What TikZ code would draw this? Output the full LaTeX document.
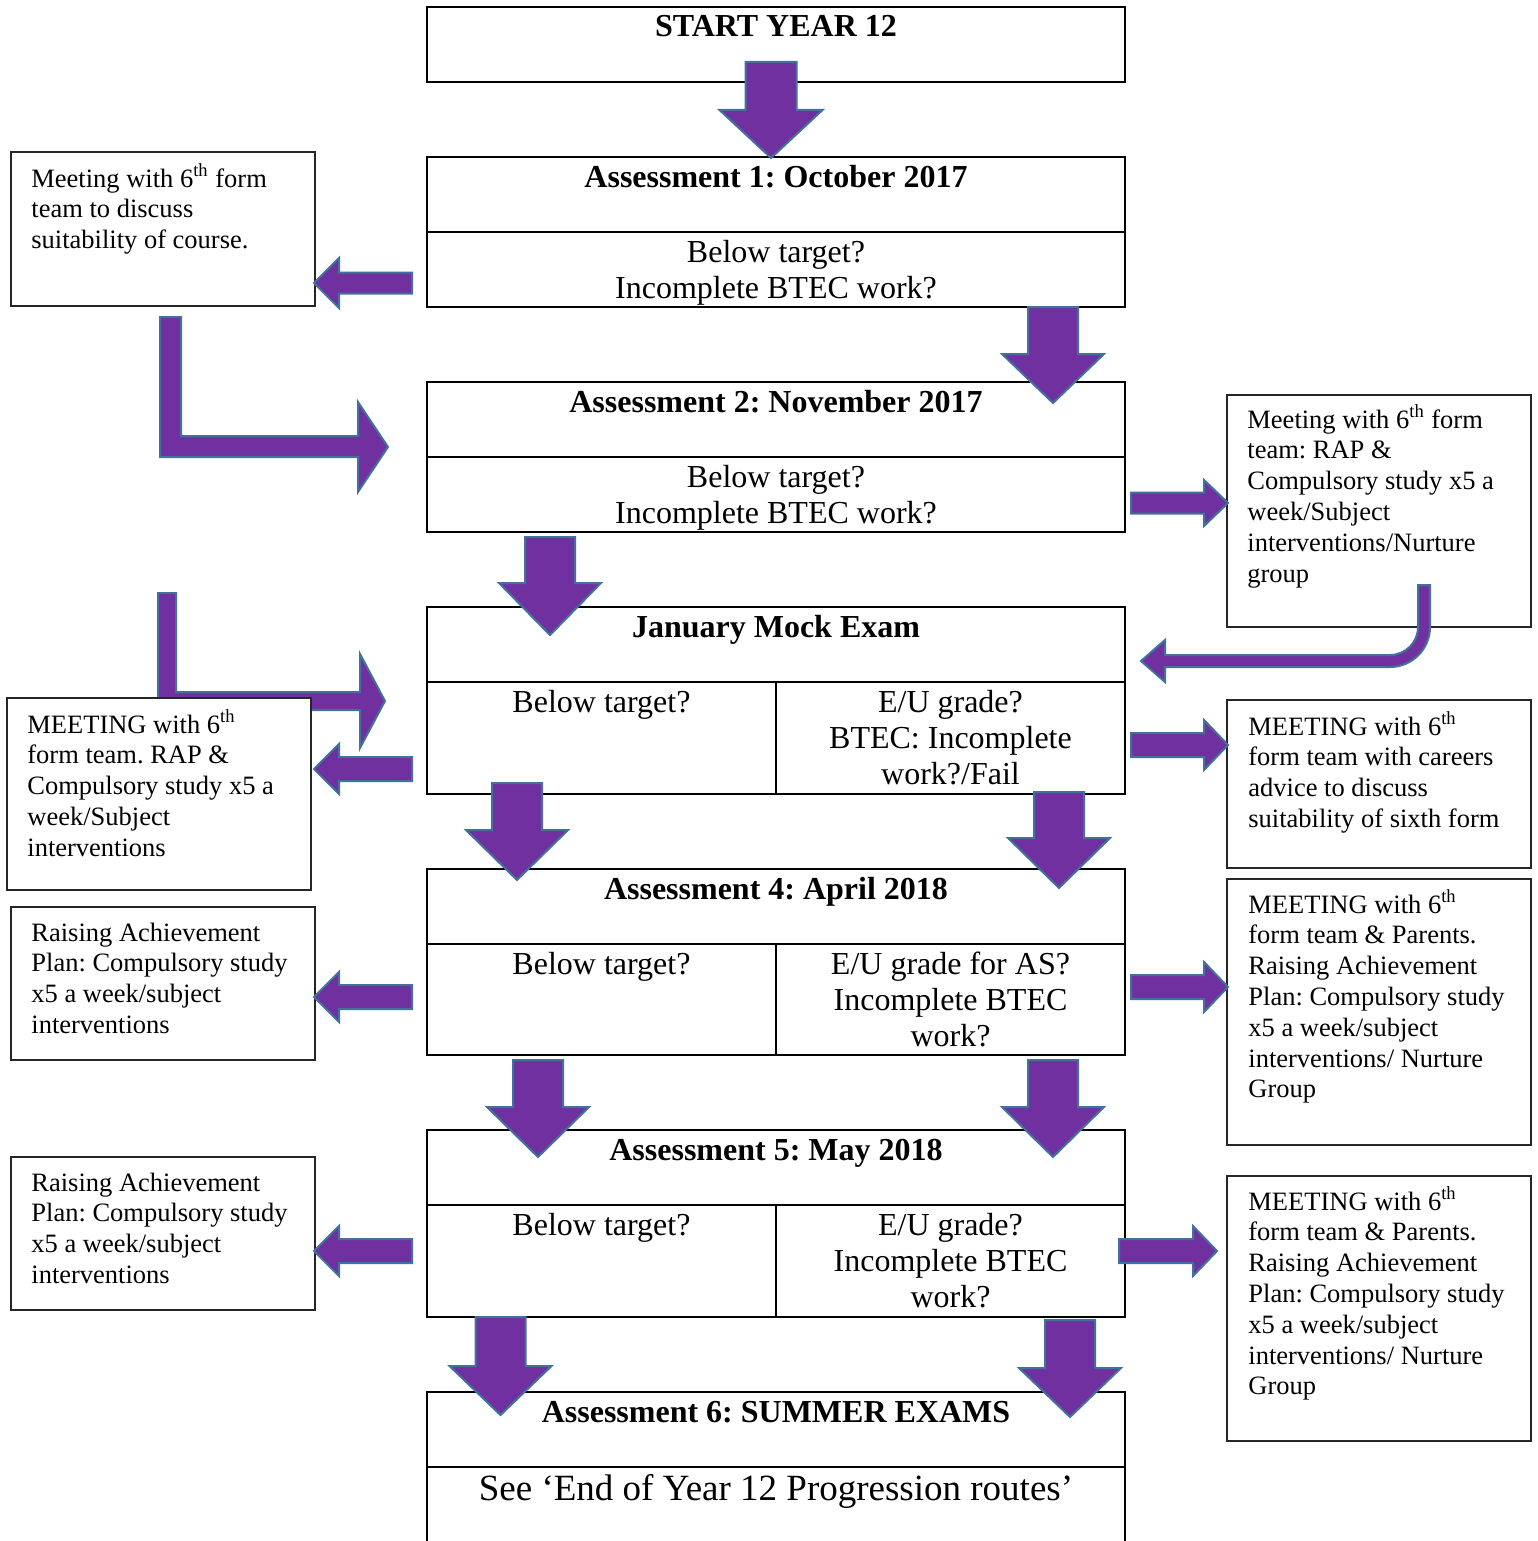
\documentclass[tikz,border=0pt]{standalone}
\usepackage{fontspec}
\setmainfont{Liberation Serif}
\frenchspacing
\definecolor{arrfill}{HTML}{7030A0}
\definecolor{arredge}{HTML}{41719C}
\tikzset{
  mainbox/.style={draw=black, line width=1.2pt, fill=white},
  sidebox/.style={draw=black!85, line width=0.75pt, fill=white},
  barrow/.style={fill=arrfill, draw=arredge, line width=1pt, line join=miter},
  ttl/.style={anchor=base, inner sep=0pt, font=\fontsize{16pt}{18pt}\selectfont\bfseries\frenchspacing},
  subtxt/.style={anchor=base, inner sep=0pt, font=\fontsize{16pt}{18pt}\selectfont\frenchspacing},
  sidetxt/.style={anchor=base west, inner sep=0pt, font=\fontsize{13.25pt}{15.4pt}\selectfont\frenchspacing},
}
\newcommand\DnArrow[6]{\draw[barrow] ({#1-#5},#2) -- ({#1+#5},#2) -- ({#1+#5},#3) -- ({#1+#6},#3) -- (#1,#4) -- ({#1-#6},#3) -- ({#1-#5},#3) -- cycle;}
\newcommand\HzArrow[6]{\draw[barrow] (#2,{#1-#5}) -- (#3,{#1-#5}) -- (#3,{#1-#6}) -- (#4,#1) -- (#3,{#1+#6}) -- (#3,{#1+#5}) -- (#2,{#1+#5}) -- cycle;}
\newcommand\CPar[1]{\parbox[t]{170pt}{\centering #1}}
\newcommand\WPar[1]{\parbox[t]{340pt}{\centering #1}}
\newcommand\SPar[1]{\parbox[t]{150pt}{\raggedright #1}}
\begin{document}
\frenchspacing
\begin{tikzpicture}[x=0.5pt,y=-0.5pt]
\useasboundingbox (0,0) rectangle (1537,1541);

% ---------- main column ----------
\draw[mainbox] (427,7) rectangle (1125,82);
\node[ttl] (start) at (776,37) {START YEAR 12};

\draw[mainbox] (427,157) rectangle (1125,307);
\draw[mainbox] (427,232) -- (1125,232);
\node[ttl] (a1) at (776,187) {Assessment 1: October 2017};
\node[subtxt] (a1q) at (776,262) {\WPar{Below target?\\Incomplete BTEC work?}};

\draw[mainbox] (427,382) rectangle (1125,532);
\draw[mainbox] (427,457) -- (1125,457);
\node[ttl] (a2) at (776,412) {Assessment 2: November 2017};
\node[subtxt] (a2q) at (776,487) {\WPar{Below target?\\Incomplete BTEC work?}};

\draw[mainbox] (427,607) rectangle (1125,794);
\draw[mainbox] (427,682) -- (1125,682);
\draw[mainbox] (776,682) -- (776,794);
\node[ttl] (jan) at (776,637) {January Mock Exam};
\node[subtxt] (janl) at (601.5,712) {Below target?};
\node[subtxt] (janr) at (950.5,712) {\CPar{E/U grade?\\BTEC: Incomplete\\work?/Fail}};

\draw[mainbox] (427,869) rectangle (1125,1055);
\draw[mainbox] (427,944) -- (1125,944);
\draw[mainbox] (776,944) -- (776,1055);
\node[ttl] (a4) at (776,899) {Assessment 4: April 2018};
\node[subtxt] (a4l) at (601.5,974) {Below target?};
\node[subtxt] (a4r) at (950.5,974) {\CPar{E/U grade for AS?\\Incomplete BTEC\\work?}};

\draw[mainbox] (427,1130) rectangle (1125,1317);
\draw[mainbox] (427,1205) -- (1125,1205);
\draw[mainbox] (776,1205) -- (776,1317);
\node[ttl] (a5) at (776,1160) {Assessment 5: May 2018};
\node[subtxt] (a5l) at (601.5,1235) {Below target?};
\node[subtxt] (a5r) at (950.5,1235) {\CPar{E/U grade?\\Incomplete BTEC\\work?}};

\draw[mainbox] (427,1392) rectangle (1125,1570);
\draw[mainbox] (427,1467) -- (1125,1467);
\node[ttl] (a6) at (776,1422) {Assessment 6: SUMMER EXAMS};
\node[anchor=base, inner sep=0pt, font=\fontsize{18.5pt}{21pt}\selectfont] (a6q) at (776,1500) {See ‘End of Year 12 Progression routes’};

% ---------- side boxes ----------
\draw[sidebox] (11,152) rectangle (315,306);
\node[sidetxt] (l1) at (31,187) {\SPar{Meeting with 6\textsuperscript{th} form\\team to discuss\\suitability of course.}};

\draw[sidebox] (1227,395) rectangle (1531,627);
\node[sidetxt] (r1) at (1247,428) {\SPar{Meeting with 6\textsuperscript{th} form\\team: RAP \&\\Compulsory study x5 a\\week/Subject\\interventions/Nurture\\group}};

\draw[sidebox] (1227,700) rectangle (1531,868);
\node[sidetxt] (r2) at (1248,735) {\SPar{MEETING with 6\textsuperscript{th}\\form team with careers\\advice to discuss\\suitability of sixth form}};

\draw[sidebox] (11,907) rectangle (315,1060);
\node[sidetxt] (l3) at (31,941) {\SPar{Raising Achievement\\Plan: Compulsory study\\x5 a week/subject\\interventions}};

\draw[sidebox] (1227,879) rectangle (1531,1145);
\node[sidetxt] (r3) at (1248,913) {\SPar{MEETING with 6\textsuperscript{th}\\form team \& Parents.\\Raising Achievement\\Plan: Compulsory study\\x5 a week/subject\\interventions/ Nurture\\Group}};

\draw[sidebox] (11,1157) rectangle (315,1310);
\node[sidetxt] (l4) at (31,1191) {\SPar{Raising Achievement\\Plan: Compulsory study\\x5 a week/subject\\interventions}};

\draw[sidebox] (1227,1176) rectangle (1531,1441);
\node[sidetxt] (r4) at (1248,1210) {\SPar{MEETING with 6\textsuperscript{th}\\form team \& Parents.\\Raising Achievement\\Plan: Compulsory study\\x5 a week/subject\\interventions/ Nurture\\Group}};

% ---------- block arrows ----------
\DnArrow{771}{62}{110}{158}{25.5}{51.5}
\DnArrow{1053}{307}{354}{403}{25}{51}
\DnArrow{550}{537}{583}{635}{25}{51}
\DnArrow{517}{783}{830}{880}{25}{51}
\DnArrow{1059}{792}{838}{888}{25}{51}
\DnArrow{538}{1060}{1107}{1157}{25}{51}
\DnArrow{1053}{1060}{1107}{1157}{25}{51}
\DnArrow{500.5}{1317}{1366}{1415}{25}{51}
\DnArrow{1070}{1320}{1368}{1417}{25}{51}

\HzArrow{283}{412}{339}{314}{10.5}{25}
\HzArrow{769}{412}{339}{314}{12}{25}
\HzArrow{997}{412}{339}{314}{12}{25}
\HzArrow{1251}{412}{339}{314}{12}{25}
\HzArrow{503}{1131}{1204}{1228}{10.5}{23}
\HzArrow{745}{1131}{1204}{1228}{12}{25}
\HzArrow{987}{1131}{1204}{1228}{12}{25}
\HzArrow{1251}{1119}{1193}{1217}{12}{25}

% L-shaped arrow: course meeting -> Assessment 2
\draw[barrow] (160,317) -- (181,317) -- (181,436) -- (358,436) -- (358,402) -- (388,447)
  -- (358,492) -- (358,457) -- (160,457) -- cycle;
% L-shaped arrow into January Mock Exam
\draw[barrow] (158,593) -- (176,593) -- (176,692) -- (360,692) -- (360,654) -- (385,701)
  -- (360,748) -- (360,710) -- (158,710) -- cycle;
% curved arrow from right meeting box back to January
\draw[barrow] (1418,585) -- (1430,585) -- (1430,627) arc[start angle=0,end angle=90,radius=40]
  -- (1165,667) -- (1165,682) -- (1141,661) -- (1165,640) -- (1165,655) -- (1390,655)
  arc[start angle=90,end angle=0,radius=28] -- cycle;

% box drawn over the L-shaped arrow
\draw[sidebox] (7,698) rectangle (311,890);
\node[sidetxt] (l2) at (27,733) {\SPar{MEETING with 6\textsuperscript{th}\\form team. RAP \&\\Compulsory study x5 a\\week/Subject\\interventions}};
\end{tikzpicture}
\end{document}
